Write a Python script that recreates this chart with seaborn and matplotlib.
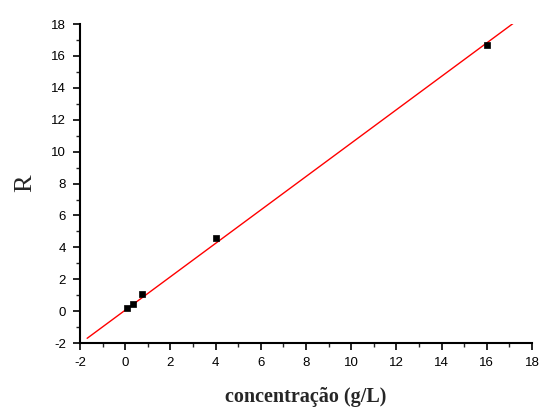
import numpy as np
import pandas as pd
import seaborn as sns
import matplotlib
matplotlib.use("Agg")
import matplotlib.pyplot as plt
from matplotlib.ticker import MultipleLocator

# data
conc = [0.1, 0.35, 0.75, 4.0, 16.0]
R_vals = [0.2, 0.45, 1.07, 4.6, 16.7]
fit_slope = 1.047
fit_intercept = 0.06
fit_x_range = [-1.68, 17.2]
x_ticks = [-2, 0, 2, 4, 6, 8, 10, 12, 14, 16, 18]
y_ticks = [-2, 0, 2, 4, 6, 8, 10, 12, 14, 16, 18]

sns.set_style("ticks")
plt.rcParams['font.family'] = ['Liberation Sans', 'DejaVu Sans']
plt.rcParams['axes.unicode_minus'] = False

df = pd.DataFrame({"x": conc, "y": R_vals})
fx = np.array(fit_x_range)
fit_df = pd.DataFrame({"x": fx, "y": fit_slope * fx + fit_intercept})

fig = plt.figure(figsize=(5.4, 4.07), dpi=100)
ax = fig.add_axes([0.148, 0.157, 0.837, 0.784])

sns.lineplot(data=fit_df, x="x", y="y", ax=ax, color="#ff0000", linewidth=1.0)
sns.scatterplot(data=df, x="x", y="y", ax=ax, marker="s", color="black",
                s=22, edgecolor="black", linewidth=0.5, zorder=3)

ax.set_xlim(-2, 18)
ax.set_ylim(-2, 18)
ax.set_xticks(x_ticks)
ax.set_yticks(y_ticks)
ax.xaxis.set_minor_locator(MultipleLocator(1))
ax.yaxis.set_minor_locator(MultipleLocator(1))
ax.tick_params(which="major", direction="out", length=5, width=1.2, labelsize=9.5,
               colors="black", pad=5)
ax.tick_params(which="minor", direction="out", length=3, width=1.0)

for s in ["top", "right"]:
    ax.spines[s].set_visible(False)
for s in ["left", "bottom"]:
    ax.spines[s].set_linewidth(1.5)
    ax.spines[s].set_color("black")

ax.set_xlabel("concentração (g/L)", fontfamily="Liberation Serif", fontweight="bold",
              fontsize=14.5, labelpad=13)
ax.set_ylabel("R", fontfamily="Liberation Serif", fontsize=19, labelpad=11)

fig.savefig("out.png", dpi=100, facecolor="white")
